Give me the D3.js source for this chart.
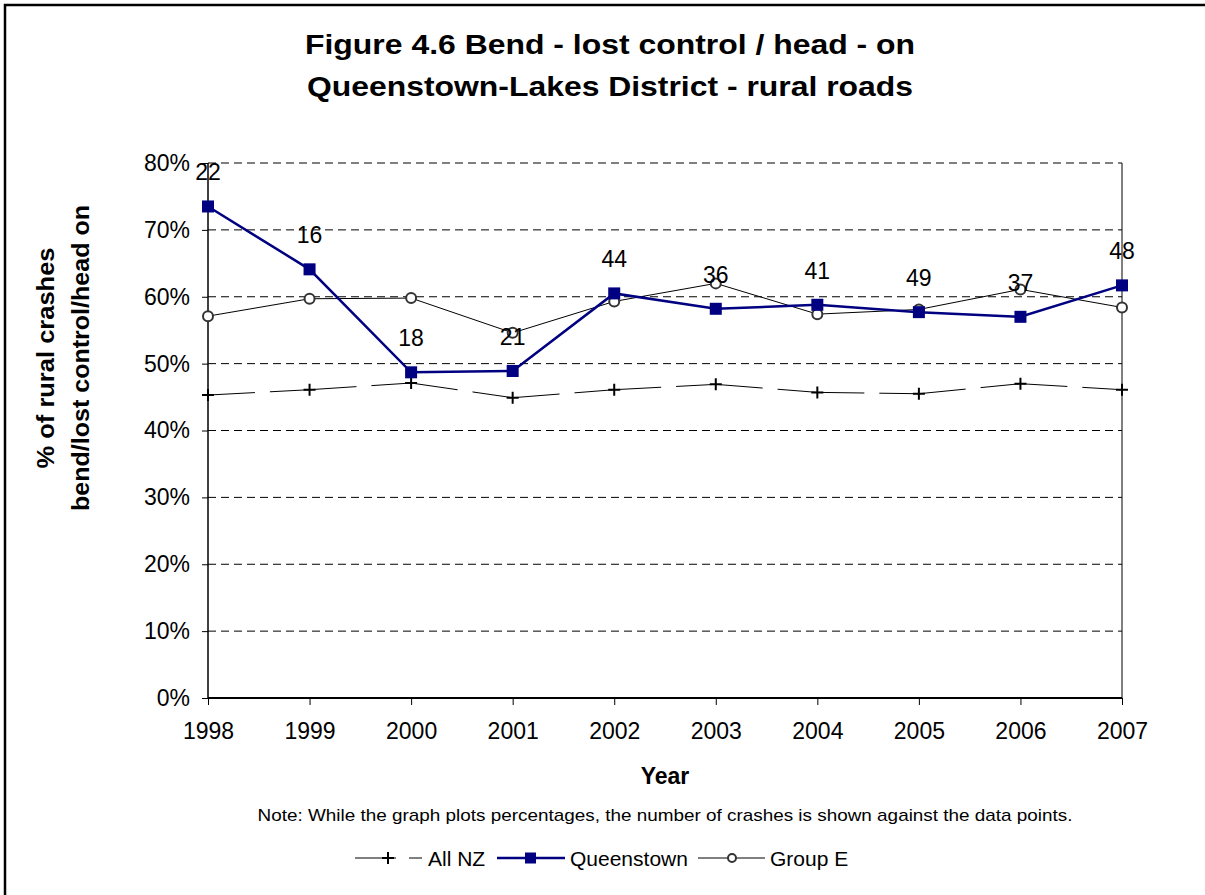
<!DOCTYPE html>
<html><head><meta charset="utf-8">
<script src="https://cdn.jsdelivr.net/npm/d3@7"></script>
<style>body{margin:0;background:#fff}svg{display:block;font-family:Arial,"Liberation Sans",sans-serif}</style>
</head><body><svg id="c" width="1205" height="895"></svg>
<script>
const years = [1998,1999,2000,2001,2002,2003,2004,2005,2006,2007];
const allNZ = [45.3,46.1,47.1,44.9,46.1,46.9,45.7,45.5,47.0,46.1];
const queenstown = [73.5,64.1,48.7,48.9,60.5,58.2,58.8,57.7,57.0,61.7];
const groupE = [57.1,59.7,59.8,54.6,59.3,62.0,57.4,58.1,61.1,58.4];
const crashCounts = [22,16,18,21,44,36,41,49,37,48];
const yTicks = [0,10,20,30,40,50,60,70,80];

const svg = d3.select("#c");
const FF = "Arial,'Liberation Sans',sans-serif";
const L=208,R=1122,T=163,B=698;
const x = d3.scalePoint().domain(years).range([L,R]);
const y = d3.scaleLinear().domain([0,80]).range([B,T]);

// outer border
svg.append("rect").attr("x",5).attr("y",5).attr("width",1220).attr("height",910)
  .attr("fill","none").attr("stroke","#000").attr("stroke-width",2.5);

// title
svg.append("text").attr("x",610).attr("y",54).attr("text-anchor","middle")
  .attr("font-size",28).attr("font-weight","bold").attr("textLength",610).attr("lengthAdjust","spacingAndGlyphs")
  .text("Figure 4.6 Bend - lost control / head - on");
svg.append("text").attr("x",610).attr("y",96).attr("text-anchor","middle")
  .attr("font-size",28).attr("font-weight","bold").attr("textLength",606).attr("lengthAdjust","spacingAndGlyphs")
  .text("Queenstown-Lakes District - rural roads");

// gridlines
svg.append("g").selectAll("line").data(yTicks.filter(d=>d>0)).join("line")
  .attr("x1",L).attr("x2",R).attr("y1",d=>y(d)).attr("y2",d=>y(d))
  .attr("stroke","#000").attr("stroke-width",1).attr("stroke-dasharray","8,5");
// right border
svg.append("line").attr("x1",R).attr("x2",R).attr("y1",T).attr("y2",B).attr("stroke","#000").attr("stroke-width",1);

// axes
const yAxis = d3.axisLeft(y).tickValues(yTicks).tickFormat(d=>d+"%").tickSize(6).tickPadding(12);
const gy = svg.append("g").attr("transform",`translate(${L},0)`).call(yAxis);
gy.select(".domain").attr("stroke","#000").attr("stroke-width",1.5).attr("d",`M0,${B}V${T}`);
gy.selectAll("text").attr("font-size",23).attr("font-family",FF).attr("fill","#000");
const xAxis = d3.axisBottom(x).tickSize(7).tickPadding(18);
const gx = svg.append("g").attr("transform",`translate(0,${B})`).call(xAxis);
gx.select(".domain").attr("stroke","#000").attr("stroke-width",2).attr("d",`M${L},0H${R}`);
gx.selectAll("text").attr("font-size",23).attr("font-family",FF).attr("fill","#000");

// axis titles
svg.append("text").attr("x",665).attr("y",784).attr("text-anchor","middle").attr("font-size",23).attr("font-weight","bold").text("Year");
const yl = svg.append("text").attr("transform","translate(54,358) rotate(-90)").attr("text-anchor","middle").attr("font-size",24).attr("font-weight","bold");
yl.append("tspan").attr("x",0).attr("dy",0).attr("textLength",221).attr("lengthAdjust","spacingAndGlyphs").text("% of rural crashes");
yl.append("tspan").attr("x",0).attr("dy",35).attr("textLength",306).attr("lengthAdjust","spacingAndGlyphs").text("bend/lost control/head on");

svg.append("text").attr("x",665).attr("y",821).attr("text-anchor","middle").attr("font-size",17)
  .attr("textLength",815).attr("lengthAdjust","spacingAndGlyphs")
  .text("Note:  While the graph plots percentages, the number of crashes is shown against the data points.");

// All NZ: dashed segments restarting at each point
const nz = years.map((yr,i)=>[x(yr),y(allNZ[i])]);
svg.append("g").selectAll("line").data(d3.pairs(nz)).join("line")
  .attr("x1",d=>d[0][0]).attr("y1",d=>d[0][1]).attr("x2",d=>d[1][0]).attr("y2",d=>d[1][1])
  .attr("stroke","#000").attr("stroke-width",1).attr("stroke-dasharray","47,15");
const plus = (g,cx,cy,s)=>g.append("path").attr("d",`M${cx-s},${cy}H${cx+s}M${cx},${cy-s}V${cy+s}`).attr("stroke","#000").attr("stroke-width",2);
const gnz = svg.append("g");
nz.forEach(p=>plus(gnz,p[0],p[1],6));

// Group E
const line = d3.line().x((d,i)=>x(years[i])).y(d=>y(d));
svg.append("path").datum(groupE).attr("d",line).attr("fill","none").attr("stroke","#000").attr("stroke-width",1);
svg.append("g").selectAll("circle").data(groupE).join("circle")
  .attr("cx",(d,i)=>x(years[i])).attr("cy",d=>y(d)).attr("r",5)
  .attr("fill","#fff").attr("stroke","#333").attr("stroke-width",2);

// Queenstown
svg.append("path").datum(queenstown).attr("d",line).attr("fill","none").attr("stroke","#000080").attr("stroke-width",2.5);
svg.append("g").selectAll("rect").data(queenstown).join("rect")
  .attr("x",(d,i)=>x(years[i])-6).attr("y",d=>y(d)-6).attr("width",12).attr("height",12)
  .attr("fill","#000080");

// labels
svg.append("g").selectAll("text").data(crashCounts).join("text")
  .attr("x",(d,i)=>x(years[i])).attr("y",(d,i)=>y(queenstown[i])-26)
  .attr("text-anchor","middle").attr("font-size",23).text(d=>d);

// legend
const ly=858;
const lg = svg.append("g");
lg.append("line").attr("x1",355).attr("x2",396).attr("y1",ly).attr("y2",ly).attr("stroke","#000").attr("stroke-width",1);
lg.append("line").attr("x1",409).attr("x2",422).attr("y1",ly).attr("y2",ly).attr("stroke","#000").attr("stroke-width",1);
plus(lg,388,ly,6);
lg.append("text").attr("x",428).attr("y",ly+8).attr("font-size",21).text("All NZ");
lg.append("line").attr("x1",497).attr("x2",565).attr("y1",ly).attr("y2",ly).attr("stroke","#000080").attr("stroke-width",2.5);
lg.append("rect").attr("x",525).attr("y",ly-5.5).attr("width",11).attr("height",11).attr("fill","#000080");
lg.append("text").attr("x",570).attr("y",ly+8).attr("font-size",21).text("Queenstown");
lg.append("line").attr("x1",698).attr("x2",765).attr("y1",ly).attr("y2",ly).attr("stroke","#000").attr("stroke-width",1);
lg.append("circle").attr("cx",732).attr("cy",ly).attr("r",4).attr("fill","#fff").attr("stroke","#333").attr("stroke-width",2);
lg.append("text").attr("x",770).attr("y",ly+8).attr("font-size",21).text("Group E");
</script></body></html>
